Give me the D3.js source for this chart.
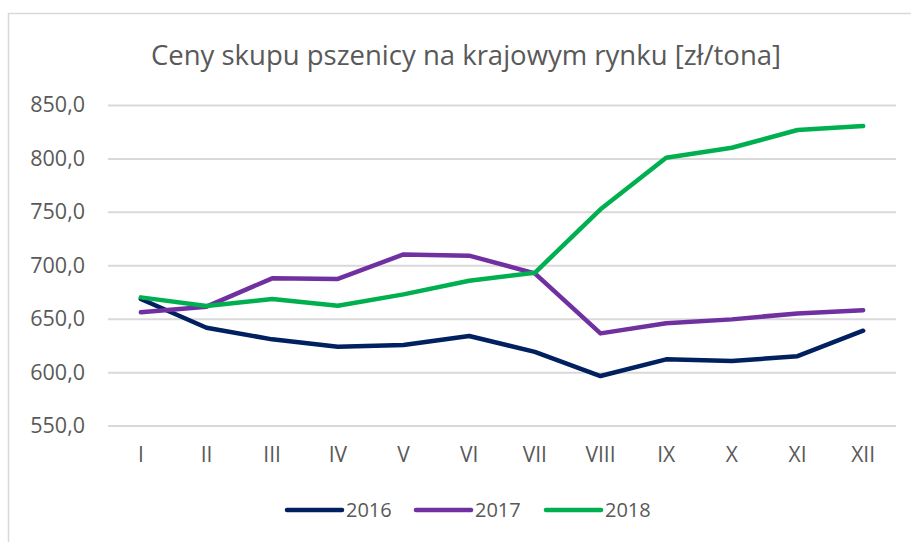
<!DOCTYPE html>
<html>
<head>
<meta charset="utf-8">
<script src="https://d3js.org/d3.v7.min.js"></script>
<style>
  body { margin: 0; background: #fff; }
  text { font-family: "Open Sans", sans-serif; fill: #595959; }
</style>
</head>
<body>
<div id="chart"></div>
<script>
var months = ["I","II","III","IV","V","VI","VII","VIII","IX","X","XI","XII"];
var years = ["2016","2017","2018"];
var colors = ["#002060","#7030A0","#00B050"];
var v2016 = [668.5, 641.6, 630.7, 623.8, 625.4, 633.8, 619.0, 596.4, 612.0, 610.4, 615.0, 638.8];
var v2017 = [656.0, 661.3, 687.8, 687.2, 710.2, 709.0, 692.5, 636.3, 645.7, 649.4, 655.0, 658.0];
var v2018 = [670.0, 661.9, 668.4, 662.2, 672.8, 685.6, 693.0, 752.4, 800.7, 810.0, 826.6, 830.3];
var yTicks = [550, 600, 650, 700, 750, 800, 850];
var series = [v2016, v2017, v2018];

var width = 911, height = 542;
var svg = d3.select("#chart").append("svg")
    .attr("width", width)
    .attr("height", height);

// chart frame
svg.append("rect")
    .attr("x", 8.5).attr("y", 13.5)
    .attr("width", 930).attr("height", 540)
    .style("fill", "none")
    .style("stroke", "#d9d9d9")
    .style("stroke-width", 1.5);

var x = d3.scaleBand().domain(months).range([108, 896]);
var y = d3.scaleLinear().domain([550, 850]).range([425.6, 105]);

svg.append("text")
    .attr("x", 466).attr("y", 65)
    .attr("text-anchor", "middle")
    .style("font-size", "27.5px")
    .text("Ceny skupu pszenicy na krajowym rynku [zł/tona]");

var fmt = function(d) { return d3.format(".1f")(d).replace(".", ","); };

var yAxis = svg.append("g")
    .attr("transform", "translate(108,0)")
    .call(d3.axisLeft(y).tickValues(yTicks).tickSize(-788).tickFormat(fmt).tickPadding(23));
yAxis.select(".domain").remove();
yAxis.selectAll("line").style("stroke", "#d9d9d9").style("stroke-width", 2);
yAxis.selectAll("text").style("font-size", "21.5px").style("fill", "#595959").attr("font-family", null);

var xAxis = svg.append("g")
    .attr("transform", "translate(0,425.6)")
    .call(d3.axisBottom(x).tickSize(0).tickPadding(21));
xAxis.select(".domain").remove();
xAxis.selectAll("text").style("font-size", "21px").style("fill", "#595959").attr("font-family", null);

var line = d3.line()
    .x(function(d, i) { return x(months[i]) + x.bandwidth() / 2; })
    .y(function(d) { return y(d); });

series.forEach(function(s, k) {
  svg.append("path")
      .datum(s)
      .attr("d", line)
      .style("fill", "none")
      .style("stroke", colors[k])
      .style("stroke-width", 4.5)
      .style("stroke-linejoin", "round")
      .style("stroke-linecap", "round");
});

// legend
var legX = [287, 416, 546];
years.forEach(function(yr, k) {
  svg.append("line")
      .attr("x1", legX[k]).attr("x2", legX[k] + 55)
      .attr("y1", 510).attr("y2", 510)
      .style("stroke", colors[k])
      .style("stroke-width", 4.5)
      .style("stroke-linecap", "round");
  svg.append("text")
      .attr("x", legX[k] + 59).attr("y", 517)
      .style("font-size", "20px")
      .text(yr);
});
</script>
</body>
</html>
